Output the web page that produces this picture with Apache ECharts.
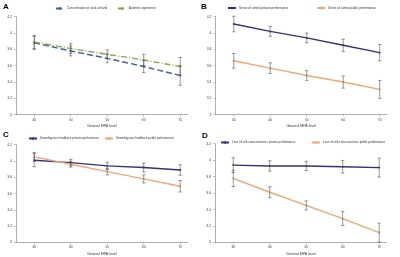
<!DOCTYPE html>
<html><head><meta charset="utf-8">
<script src="https://cdn.jsdelivr.net/npm/echarts@6/dist/echarts.min.js"></script>
<style>html,body{margin:0;padding:0;background:#fff}#c{width:400px;height:257px}</style>
</head><body><div id="c"></div>
<script>
const mpaLevels = [30, 40, 50, 60, 70];
const panelLetters = ['A', 'B', 'C', 'D'];
const xAxisTitle = 'General MPA level';

const concMean = [3.88, 3.78, 3.69, 3.59, 3.48];
const concErr  = [0.08, 0.06, 0.055, 0.075, 0.12];
const autoMean = [3.89, 3.81, 3.74, 3.67, 3.59];
const autoErr  = [0.08, 0.06, 0.055, 0.07, 0.11];

const ctrlPrivMean = [4.11, 4.02, 3.94, 3.85, 3.76];
const ctrlPrivErr  = [0.095, 0.06, 0.06, 0.075, 0.10];
const ctrlPubMean  = [3.66, 3.57, 3.48, 3.40, 3.31];
const ctrlPubErr   = [0.09, 0.065, 0.06, 0.075, 0.11];

const fbPrivMean = [4.01, 3.98, 3.94, 3.92, 3.89];
const fbPrivErr  = [0.08, 0.04, 0.045, 0.055, 0.065];
const fbPubMean  = [4.05, 3.96, 3.87, 3.78, 3.69];
const fbPubErr   = [0.055, 0.035, 0.04, 0.05, 0.07];

const lscPrivMean = [3.94, 3.93, 3.93, 3.92, 3.91];
const lscPrivErr  = [0.09, 0.063, 0.055, 0.077, 0.115];
const lscPubMean  = [3.78, 3.61, 3.45, 3.29, 3.12];
const lscPubErr   = [0.10, 0.067, 0.055, 0.085, 0.115];

const yMin = 3, yMax = 4.2, yStep = 0.2;

const panels = [
  {grid:{left:16, top:16.7, width:171.5, height:98},
   s:[{name:'Concentration on task at hand', mean:concMean, err:concErr, color:'#3f5fa6', type:[6,3], lx:55, ly:7},
      {name:'Autotelic experience', mean:autoMean, err:autoErr, color:'#86ad45', type:[6,2,1,2], lx:117, ly:7}]},
  {grid:{left:215.5, top:16.7, width:171.5, height:98},
   s:[{name:'Sense of control private performance', mean:ctrlPrivMean, err:ctrlPrivErr, color:'#3a2d7c', type:'solid', lx:227, ly:6.5},
      {name:'Sense of control public performance', mean:ctrlPubMean, err:ctrlPubErr, color:'#eaa874', type:'solid', lx:316, ly:6.5}]},
  {grid:{left:16, top:144.7, width:171.5, height:99.6},
   s:[{name:'Unambiguous feedback private performance', mean:fbPrivMean, err:fbPrivErr, color:'#3a2d7c', type:'solid', lx:28, ly:137},
      {name:'Unambiguous feedback public performance', mean:fbPubMean, err:fbPubErr, color:'#eaa874', type:'solid', lx:104, ly:137}]},
  {grid:{left:215, top:143.7, width:171.5, height:101},
   s:[{name:'Loss of self-consciousness private performance', mean:lscPrivMean, err:lscPrivErr, color:'#3a2d7c', type:'solid', lx:220, ly:141},
      {name:'Loss of self-consciousness public performance', mean:lscPubMean, err:lscPubErr, color:'#eaa874', type:'solid', lx:311, ly:141}]}
];

const font = 'Liberation Sans, Arial, sans-serif';
const grids = [], xAxes = [], yAxes = [], series = [], legends = [], graphics = [];
const letterPos = [[3,3],[201,3],[3,131],[202,132]];

panels.forEach((p, i) => {
  grids.push(p.grid);
  xAxes.push({
    type:'value', gridIndex:i, min:25, max:72,
    axisLine:{show:true, lineStyle:{color:'#999', width:0.8}},
    axisTick:{show:true, length:2, lineStyle:{color:'#999', width:0.6}, customValues:mpaLevels},
    axisLabel:{fontSize:3.5, color:'#444', fontFamily:font, margin:3, customValues:mpaLevels},
    splitLine:{show:false},
    name:xAxisTitle, nameLocation:'middle', nameGap:9.5,
    nameTextStyle:{fontSize:3.6, color:'#333', fontFamily:font}
  });
  yAxes.push({
    type:'value', gridIndex:i, min:yMin, max:yMax, interval:yStep,
    axisLine:{show:true, lineStyle:{color:'#999', width:0.8}},
    axisTick:{show:true, length:2, lineStyle:{color:'#999', width:0.6}},
    axisLabel:{fontSize:3.5, color:'#444', fontFamily:font, margin:4,
      formatter: v => String(Math.round(v*10)/10)},
    splitLine:{show:false}
  });
  p.s.forEach(s => {
    series.push({
      name:s.name, type:'line', xAxisIndex:i, yAxisIndex:i,
      data: mpaLevels.map((x,k)=>[x, s.mean[k]]),
      symbol:'circle', symbolSize:2, z:3,
      lineStyle:{color:s.color, width:1.4, type:s.type},
      itemStyle:{color:s.color}
    });
    series.push({
      type:'custom', xAxisIndex:i, yAxisIndex:i, z:4, silent:true,
      data: mpaLevels.map((x,k)=>[x, s.mean[k]-s.err[k], s.mean[k]+s.err[k]]),
      renderItem:(params, api) => {
        const lo = api.coord([api.value(0), api.value(1)]);
        const hi = api.coord([api.value(0), api.value(2)]);
        const w = 1.7;
        const st = {stroke:'#555', lineWidth:0.6};
        return {type:'group', children:[
          {type:'line', shape:{x1:lo[0], y1:lo[1], x2:hi[0], y2:hi[1]}, style:st},
          {type:'line', shape:{x1:lo[0]-w, y1:lo[1], x2:lo[0]+w, y2:lo[1]}, style:st},
          {type:'line', shape:{x1:hi[0]-w, y1:hi[1], x2:hi[0]+w, y2:hi[1]}, style:st}
        ]};
      }
    });
    legends.push({
      data:[s.name], left:s.lx, top:s.ly, itemWidth:8, itemHeight:3, itemGap:2,
      padding:0, textStyle:{fontSize:3, color:'#333', fontFamily:font, padding:[0,0,0,-2]},
      selectedMode:false
    });
  });
  graphics.push({type:'text', left:letterPos[i][0], top:letterPos[i][1],
    style:{text:panelLetters[i], font:'bold 8px '+font, fill:'#000'}});
});

const chart = echarts.init(document.getElementById('c'), null, {renderer:'canvas'});
chart.setOption({
  animation:false,
  grid:grids, xAxis:xAxes, yAxis:yAxes, series:series, legend:legends, graphic:graphics
});
</script></body></html>
